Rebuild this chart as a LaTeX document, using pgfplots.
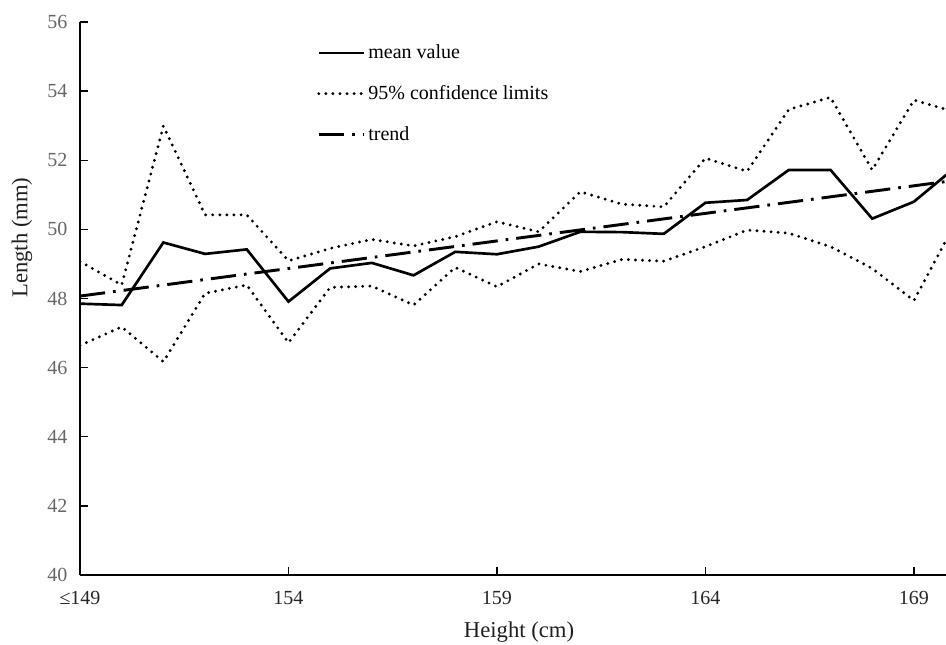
\documentclass[border=0pt]{standalone}
\usepackage{pgfplots}
\pgfplotsset{compat=1.18}
\usepackage{fontspec}
\setmainfont{Liberation Serif}
\definecolor{yticktxt}{rgb}{0.40,0.40,0.40}
\definecolor{xticktxt}{rgb}{0.15,0.15,0.15}
\definecolor{labtxt}{rgb}{0.12,0.12,0.12}
\begin{document}
\begin{tikzpicture}
\useasboundingbox (0,0) rectangle (709.5pt,483.75pt);
\begin{axis}[
  at={(60pt,52.5pt)}, anchor=south west,
  scale only axis, width=649.5pt, height=414.75pt,
  xmin=149, xmax=169.77, ymin=40, ymax=56,
  axis x line*=bottom, axis y line*=left,
  axis line style={line width=1.3pt, black},
  xtick={149,154,159,164,169},
  xticklabels={≤149,154,159,164,169},
  ytick={40,42,...,56},
  tick align=inside, major tick length=6pt,
  tick style={line width=1pt, black},
  /pgf/number format/assume math mode=true,
  tick label style={font=\fontsize{15}{17}\selectfont},
  xticklabel style={yshift=-9pt, text=xticktxt},
  yticklabel style={xshift=-6pt, text=yticktxt},
  xlabel={Height (cm)}, ylabel={Length (mm)},
  every axis x label/.style={at={(rel axis cs:0.507,-0.103)}, anchor=center,
    font=\fontsize{17}{19}\selectfont, text=labtxt},
  every axis y label/.style={at={(rel axis cs:-0.067,0.61)}, anchor=center, rotate=90,
    font=\fontsize{17}{19}\selectfont, text=labtxt},
  clip=true,
  legend cell align=left,
  legend style={draw=none, fill=none, at={(rel axis cs:0.272,0.966)}, anchor=north west,
    font=\fontsize{15}{17}\selectfont, row sep=14.5pt, inner sep=1pt,
    /tikz/every even column/.append style={column sep=3pt}},
  legend image code/.code={\draw[#1] (0pt,0pt) -- (34pt,0pt);},
]
\addplot[black, line width=2pt] coordinates {
(149,47.85) (150,47.81) (151,49.62) (152,49.29) (153,49.42) (154,47.91)
(155,48.87) (156,49.03) (157,48.67) (158,49.35) (159,49.28) (160,49.50)
(161,49.93) (162,49.92) (163,49.87) (164,50.77) (165,50.85) (166,51.72)
(167,51.72) (168,50.31) (169,50.80) (170,51.80)};
\addlegendentry{mean value}
\addplot[black, line width=2.4pt, line cap=round, dash pattern=on 0pt off 5.3pt] coordinates {
(149,49.07) (150,48.39) (151,52.99) (152,50.42) (153,50.42) (154,49.09)
(155,49.45) (156,49.71) (157,49.52) (158,49.79) (159,50.22) (160,49.93)
(161,51.09) (162,50.73) (163,50.65) (164,52.06) (165,51.68) (166,53.47)
(167,53.82) (168,51.72) (169,53.74) (170,53.39)};
\addlegendentry{95\% confidence limits}
\addplot[black, line width=2.4pt, line cap=round, dash pattern=on 0pt off 5.3pt, forget plot] coordinates {
(149,46.64) (150,47.18) (151,46.17) (152,48.15) (153,48.39) (154,46.72)
(155,48.32) (156,48.36) (157,47.81) (158,48.90) (159,48.34) (160,49.00)
(161,48.78) (162,49.13) (163,49.08) (164,49.50) (165,49.98) (166,49.89)
(167,49.50) (168,48.87) (169,47.94) (170,50.20)};
\addplot[black, line width=2.2pt, dash pattern=on 19pt off 6pt on 2pt off 6pt] coordinates {
(149,48.07) (170,51.42)};
\addlegendentry{trend}
\end{axis}
\end{tikzpicture}
\end{document}
